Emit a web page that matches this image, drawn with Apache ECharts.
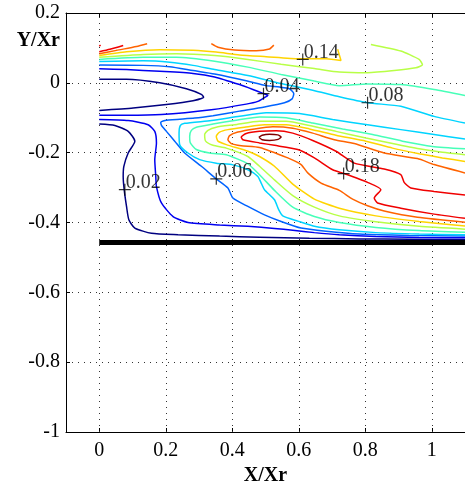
<!DOCTYPE html>
<html><head><meta charset="utf-8">
<script src="https://cdn.jsdelivr.net/npm/echarts@6/dist/echarts.min.js"></script>
<style>html,body{margin:0;padding:0;background:#fff}#c{width:465px;height:495px}</style>
</head><body><div id="c"></div>
<script>
// ---- ticks ----
const xTicks = [0, 0.2, 0.4, 0.6, 0.8, 1];
const yTicks = [-1, -0.8, -0.6, -0.4, -0.2, 0, 0.2];

// ---- contour levels & jet colours ----
const levels = [0.02, 0.04, 0.06, 0.08, 0.10, 0.12, 0.14, 0.16, 0.18, 0.20];
const levelColors = ['#000080', '#0000f0', '#0063ff', '#00d4ff', '#47ffb8', '#b8ff47', '#ffd400', '#ff6300', '#f00000', '#800000'];

// ---- contour polylines (X/Xr, Y/Xr) ----
const c02a = [[0,0.010],[0.082,0.010],[0.182,0.000],[0.262,-0.017],[0.307,-0.033],[0.314,-0.041],[0.282,-0.051],[0.202,-0.062],[0.102,-0.072],[0,-0.079]];
const c02b = [[0,-0.118],[0.047,-0.122],[0.087,-0.139],[0.107,-0.167],[0.087,-0.201],[0.074,-0.239],[0.072,-0.268],[0.075,-0.306],[0.082,-0.354],[0.089,-0.392],[0.107,-0.416],[0.157,-0.431],[0.237,-0.435],[0.362,-0.439],[0.482,-0.442],[0.632,-0.445],[0.782,-0.447],[0.932,-0.448],[1.1,-0.449]];
const c04a = [[0,0.040],[0.082,0.038],[0.182,0.033],[0.282,0.027],[0.347,0.017],[0.422,-0.005],[0.462,-0.019],[0.494,-0.031],[0.507,-0.036],[0.497,-0.042],[0.477,-0.053],[0.442,-0.061],[0.337,-0.077],[0.187,-0.091],[0.082,-0.093],[0,-0.093]];
const c04b = [[0,-0.105],[0.087,-0.108],[0.147,-0.120],[0.167,-0.139],[0.172,-0.172],[0.167,-0.220],[0.170,-0.268],[0.172,-0.297],[0.187,-0.344],[0.222,-0.383],[0.267,-0.400],[0.362,-0.407],[0.447,-0.411],[0.527,-0.417],[0.582,-0.422],[0.647,-0.429],[0.722,-0.435],[0.832,-0.440],[0.962,-0.443],[1.1,-0.444]];
const c06 = [[0,0.051],[0.132,0.050],[0.212,0.046],[0.282,0.035],[0.347,0.025],[0.442,0.006],[0.502,-0.008],[0.542,-0.012],[0.572,-0.017],[0.585,-0.031],[0.580,-0.046],[0.557,-0.057],[0.497,-0.069],[0.422,-0.081],[0.342,-0.094],[0.287,-0.101],[0.202,-0.107],[0.185,-0.113],[0.187,-0.122],[0.202,-0.139],[0.227,-0.167],[0.257,-0.201],[0.307,-0.239],[0.352,-0.275],[0.387,-0.301],[0.402,-0.330],[0.447,-0.354],[0.497,-0.378],[0.547,-0.397],[0.607,-0.416],[0.682,-0.425],[0.782,-0.433],[0.932,-0.437],[1.1,-0.439]];
const c08a = [[0,0.061],[0.132,0.063],[0.212,0.059],[0.282,0.050],[0.347,0.038],[0.447,0.021],[0.547,-0.002],[0.642,-0.021],[0.722,-0.040],[0.807,-0.057],[0.907,-0.067],[1.007,-0.096],[1.1,-0.115]];
const c08b = [[1.1,-0.161],[1.007,-0.148],[0.907,-0.134],[0.807,-0.120],[0.702,-0.105],[0.602,-0.088],[0.502,-0.086],[0.422,-0.096],[0.337,-0.108],[0.257,-0.116],[0.244,-0.122],[0.240,-0.144],[0.242,-0.177],[0.267,-0.201],[0.302,-0.220],[0.352,-0.230],[0.402,-0.235],[0.447,-0.249],[0.477,-0.268],[0.487,-0.287],[0.497,-0.306],[0.527,-0.335],[0.540,-0.364],[0.552,-0.381],[0.597,-0.396],[0.647,-0.411],[0.722,-0.421],[0.832,-0.429],[0.962,-0.433],[1.1,-0.435]];
const c10a = [[0,0.067],[0.132,0.073],[0.232,0.073],[0.347,0.062],[0.447,0.045],[0.547,0.024],[0.647,0.005],[0.722,-0.008],[0.807,-0.003],[0.907,-0.005],[1.007,-0.019],[1.1,-0.036]];
const c10b = [[1.1,-0.189],[1.002,-0.182],[0.912,-0.167],[0.822,-0.148],[0.732,-0.132],[0.642,-0.115],[0.562,-0.100],[0.482,-0.098],[0.412,-0.107],[0.342,-0.118],[0.292,-0.127],[0.277,-0.136],[0.272,-0.153],[0.274,-0.172],[0.292,-0.191],[0.332,-0.201],[0.382,-0.206],[0.447,-0.232],[0.482,-0.263],[0.527,-0.308],[0.582,-0.356],[0.647,-0.383],[0.722,-0.400],[0.832,-0.414],[0.962,-0.423],[1.1,-0.428]];
const c12a = [[0,0.073],[0.132,0.081],[0.232,0.083],[0.347,0.078],[0.447,0.067],[0.547,0.053],[0.647,0.041],[0.722,0.031],[0.807,0.029],[0.887,0.035],[0.952,0.043],[0.972,0.052],[0.962,0.067],[0.907,0.091],[0.817,0.110]];
const c12b = [[1.1,-0.206],[1.032,-0.199],[0.962,-0.189],[0.882,-0.174],[0.802,-0.158],[0.712,-0.139],[0.632,-0.122],[0.562,-0.110],[0.482,-0.110],[0.407,-0.120],[0.352,-0.127],[0.327,-0.136],[0.317,-0.148],[0.320,-0.167],[0.342,-0.179],[0.382,-0.187],[0.447,-0.211],[0.482,-0.239],[0.527,-0.278],[0.582,-0.323],[0.647,-0.356],[0.722,-0.381],[0.832,-0.398],[0.962,-0.411],[1.1,-0.419]];
const c14a = [[0,0.078],[0.082,0.089],[0.182,0.095],[0.282,0.093],[0.352,0.088],[0.422,0.080],[0.502,0.075],[0.602,0.069],[0.682,0.069],[0.727,0.064],[0.717,0.096]];
const c14b = [[1.1,-0.225],[1.032,-0.215],[0.962,-0.203],[0.882,-0.187],[0.802,-0.167],[0.712,-0.150],[0.632,-0.132],[0.562,-0.120],[0.497,-0.120],[0.437,-0.127],[0.387,-0.134],[0.362,-0.141],[0.352,-0.153],[0.357,-0.167],[0.382,-0.177],[0.447,-0.196],[0.482,-0.211],[0.527,-0.239],[0.582,-0.290],[0.647,-0.333],[0.722,-0.359],[0.832,-0.381],[0.962,-0.397],[1.1,-0.410]];
const c16a = [[0,0.083],[0.052,0.093],[0.112,0.104],[0.144,0.112]];
const c16b = [[0.337,0.112],[0.357,0.102],[0.407,0.094],[0.472,0.092],[0.512,0.097],[0.525,0.108]];
const c16c = [[1.1,-0.258],[1.007,-0.234],[0.957,-0.217],[0.857,-0.201],[0.767,-0.174],[0.707,-0.163],[0.642,-0.144],[0.582,-0.130],[0.522,-0.126],[0.467,-0.132],[0.417,-0.141],[0.392,-0.151],[0.387,-0.163],[0.397,-0.174],[0.427,-0.180],[0.482,-0.185],[0.567,-0.215],[0.607,-0.234],[0.627,-0.258],[0.667,-0.287],[0.722,-0.308],[0.762,-0.333],[0.807,-0.352],[0.857,-0.367],[0.957,-0.385],[1.1,-0.399]];
const c18a = [[0,0.089],[0.032,0.096],[0.072,0.107]];
const c18b = [[0,0.105],[0.004,0.108]];
const c18c = [[1.1,-0.321],[1.007,-0.311],[0.937,-0.301],[0.917,-0.285],[0.907,-0.263],[0.857,-0.247],[0.767,-0.230],[0.712,-0.196],[0.642,-0.165],[0.582,-0.144],[0.532,-0.137],[0.482,-0.139],[0.442,-0.145],[0.427,-0.155],[0.432,-0.163],[0.482,-0.172],[0.527,-0.179],[0.597,-0.191],[0.647,-0.215],[0.702,-0.249],[0.737,-0.260],[0.807,-0.285],[0.847,-0.306],[0.827,-0.330],[0.837,-0.344],[0.907,-0.359],[1.007,-0.376],[1.1,-0.388]];
const c20 = [[0.480,-0.156],[0.490,-0.150],[0.512,-0.147],[0.537,-0.149],[0.547,-0.155],[0.538,-0.162],[0.512,-0.165],[0.490,-0.163],[0.480,-0.156]];

const contourLines = [
  [0.02, c02a], [0.02, c02b], [0.04, c04a], [0.04, c04b], [0.06, c06],
  [0.08, c08a], [0.08, c08b], [0.10, c10a], [0.10, c10b], [0.12, c12a], [0.12, c12b],
  [0.14, c14a], [0.14, c14b], [0.16, c16a], [0.16, c16b], [0.16, c16c],
  [0.18, c18a], [0.18, c18b], [0.18, c18c], [0.20, c20]
];

// ---- contour labels ----
const labelLevels = [0.02, 0.06, 0.04, 0.14, 0.08, 0.18];
const labelX = [0.077, 0.352, 0.494, 0.612, 0.807, 0.735];
const labelY = [-0.306, -0.275, -0.031, 0.067, -0.057, -0.260];

// ---- wall ----
const wallX = [0, 1.1];
const wallY = -0.457;

const FONT = 'Liberation Serif';
function colorOf(v) { return levelColors[levels.findIndex(l => Math.abs(l - v) < 1e-9)]; }

const series = contourLines.map(([lv, pts]) => ({
  type: 'line', data: pts, showSymbol: false, symbol: 'none', smooth: 0.2,
  lineStyle: { color: colorOf(lv), width: 1.5 }, silent: true, z: 3
}));

series.push({
  type: 'line', data: wallX.map(x => [x, wallY]), showSymbol: false, symbol: 'none',
  lineStyle: { color: '#000', width: 5 }, silent: true, z: 4,
  markLine: {
    silent: true, symbol: 'none', label: { show: false },
    lineStyle: { color: '#333', width: 1, type: [1, 5] },
    data: xTicks.map(v => ({ xAxis: v })), z: 1
  }
});

series.push({
  type: 'scatter',
  data: labelX.map((x, i) => [x, labelY[i], labelLevels[i]]),
  symbol: 'path://M0,5.4H12V6.6H0Z M5.4,0H6.6V12H5.4Z', symbolSize: 12,
  itemStyle: { color: '#000' }, silent: true, z: 6,
  label: {
    show: true, formatter: p => p.value[2].toFixed(2), position: [7, 9],
    align: 'left', verticalAlign: 'bottom', fontSize: 20, fontFamily: FONT, color: '#000'
  }
});

const axisLineStyle = { show: true, onZero: false, lineStyle: { color: '#000', width: 1 } };
const tickStyle = { show: true, inside: true, length: 4, lineStyle: { color: '#000' } };

const option = {
  animation: false,
  backgroundColor: '#fff',
  grid: { left: 66, right: -1, top: 13, bottom: 63, containLabel: false },
  xAxis: [
    {
      type: 'value', min: -0.1, max: 1.1, position: 'bottom',
      axisLine: axisLineStyle,
      axisTick: Object.assign({ customValues: xTicks }, tickStyle),
      axisLabel: { customValues: xTicks, fontSize: 20, fontFamily: FONT, color: '#000', margin: 9, formatter: v => String(+v.toFixed(1)) },
      splitLine: { show: false },
      name: 'X/Xr', nameLocation: 'middle', nameGap: 34,
      nameTextStyle: { fontSize: 20, fontWeight: 'bold', fontFamily: FONT, color: '#000' }
    },
    {
      type: 'value', min: -0.1, max: 1.1, position: 'top',
      axisLine: axisLineStyle,
      axisTick: Object.assign({ customValues: xTicks }, tickStyle),
      axisLabel: { show: false }, splitLine: { show: false }
    }
  ],
  yAxis: {
    type: 'value', min: yTicks[0], max: yTicks[yTicks.length - 1], interval: 0.2,
    axisLine: axisLineStyle,
    axisTick: tickStyle,
    axisLabel: { fontSize: 20, fontFamily: FONT, color: '#000', margin: 6, formatter: v => String(+v.toFixed(1)) },
    splitLine: { show: true, lineStyle: { color: '#333', width: 1, type: [1, 5] } }
  },
  graphic: [{
    type: 'text', x: 60, y: 41, z: 10,
    style: { text: 'Y/Xr', align: 'right', verticalAlign: 'middle', fontSize: 20, fontWeight: 'bold', fontFamily: FONT, fill: '#000' }
  }],
  series: series
};

const chart = echarts.init(document.getElementById('c'), null, { renderer: 'canvas' });
chart.setOption(option);
</script></body></html>
